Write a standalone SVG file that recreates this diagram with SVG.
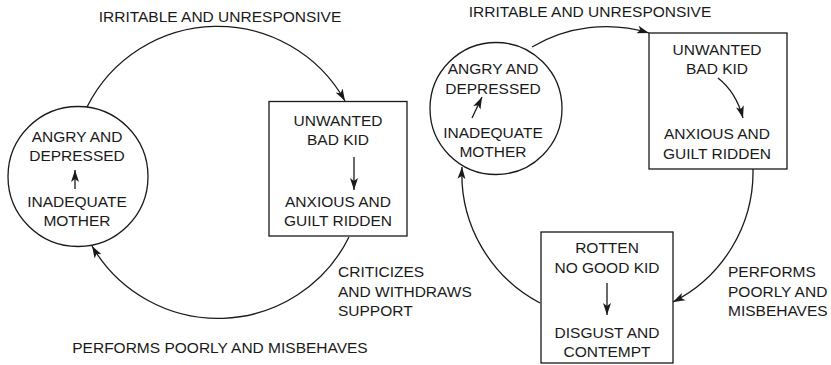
<svg xmlns="http://www.w3.org/2000/svg" width="831" height="365" viewBox="0 0 831 365">
<style>
text{font-family:"Liberation Sans",Arial,sans-serif;font-size:15.5px;fill:#1a1a1a;}
.c{text-anchor:middle;}
.n{fill:#fff;stroke:#1a1a1a;stroke-width:1.3;}
.l{fill:none;stroke:#1a1a1a;stroke-width:1.3;marker-end:url(#ah);}
</style>
<defs>
<marker id="ah" markerUnits="userSpaceOnUse" markerWidth="14" markerHeight="10" refX="12" refY="4" orient="auto" viewBox="0 0 14 8">
<path d="M0,0 L12,4 L0,8 L3,4 Z" fill="#1a1a1a"/>
</marker>
</defs>
<g id="labels">
<text class="c" x="220" y="22">IRRITABLE AND UNRESPONSIVE</text>
<text class="c" x="220" y="353">PERFORMS POORLY AND MISBEHAVES</text>
<text x="338" y="277">CRITICIZES</text>
<text x="338" y="297">AND WITHDRAWS</text>
<text x="338" y="316">SUPPORT</text>
<text class="c" x="590" y="17">IRRITABLE AND UNRESPONSIVE</text>
<text x="728" y="277">PERFORMS</text>
<text x="728" y="297">POORLY AND</text>
<text x="728" y="316">MISBEHAVES</text>
</g>
<g id="mother-left">
<circle class="n" cx="78" cy="176.5" r="70"/>
<text class="c" x="77" y="142">ANGRY AND</text>
<text class="c" x="77" y="161">DEPRESSED</text>
<text class="c" x="77" y="207">INADEQUATE</text>
<text class="c" x="77" y="226">MOTHER</text>
</g>
<g id="kid-left">
<rect class="n" x="269" y="101.5" width="138" height="134.5"/>
<text class="c" x="338" y="126">UNWANTED</text>
<text class="c" x="338" y="145">BAD KID</text>
<text class="c" x="338" y="207">ANXIOUS AND</text>
<text class="c" x="338" y="226">GUILT RIDDEN</text>
</g>
<g id="mother-right">
<circle class="n" cx="496" cy="108.5" r="66"/>
<text class="c" x="493" y="74">ANGRY AND</text>
<text class="c" x="493" y="94">DEPRESSED</text>
<text class="c" x="493" y="138">INADEQUATE</text>
<text class="c" x="493" y="157">MOTHER</text>
</g>
<g id="kid-right">
<rect class="n" x="649" y="33" width="138" height="136"/>
<text class="c" x="717" y="55">UNWANTED</text>
<text class="c" x="717" y="74">BAD KID</text>
<text class="c" x="717" y="139">ANXIOUS AND</text>
<text class="c" x="717" y="159">GUILT RIDDEN</text>
</g>
<g id="rotten-kid">
<rect class="n" x="541" y="232" width="132" height="131"/>
<text class="c" x="607" y="253">ROTTEN</text>
<text class="c" x="607" y="273">NO GOOD KID</text>
<text class="c" x="607" y="338">DISGUST AND</text>
<text class="c" x="607" y="357">CONTEMPT</text>
</g>
<g id="connectors">
<path class="l" d="M87,107 A146,146 0 0 1 345,101"/>
<path class="l" d="M349,237 A146,146 0 0 1 92,246"/>
<path class="l" d="M532,47 A146,146 0 0 1 649,33"/>
<path class="l" d="M753,169 A146,146 0 0 1 673,302"/>
<path class="l" d="M540,303 A146,146 0 0 1 462,167"/>
<path class="l" d="M75,189 L75,170"/>
<path class="l" d="M354,157 L354,190"/>
<path class="l" d="M472,118 L482,97"/>
<path class="l" d="M718,78 Q736,92 743,118"/>
<path class="l" d="M607,283 L607,315"/>
</g>
</svg>
